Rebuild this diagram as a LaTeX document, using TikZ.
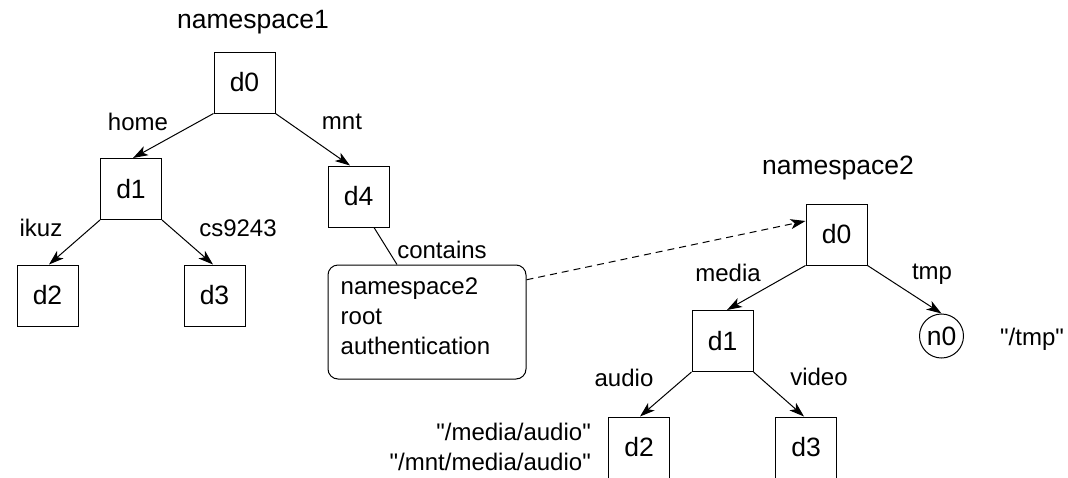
\documentclass[tikz,border=0pt]{standalone}
\usepackage{fontspec}
\setmainfont{Liberation Sans}[Ligatures=TeXOff]
\usetikzlibrary{arrows.meta}
\begin{document}
\begin{tikzpicture}[x=1pt,y=-1pt,
  big/.style={font=\fontsize{26.5}{32}\selectfont},
  small/.style={font=\fontsize{24}{30}\selectfont},
  dir/.style={draw, line width=1pt, minimum size=61pt, inner sep=0pt, big},
  leaf/.style={draw, circle, line width=1pt, minimum size=44pt, inner sep=0pt, big},
  lbl/.style={small, inner sep=0pt},
  arr/.style={line width=1pt, -{Stealth[length=15pt,width=10pt,inset=4pt]}},
  link/.style={line width=1pt}
]
\useasboundingbox (0,0) rectangle (1068,477);

% first namespace
\node[big, inner sep=0pt] (t1) at (253,22) {namespace1};
\node[dir] (a0) at (244.5,82.5) {d0};
\node[dir] (a1) at (131,189) {d1};
\node[dir] (a4) at (358.5,196.5) {d4};
\node[dir] (a2) at (47.5,295.5) {d2};
\node[dir] (a3) at (214.5,295.5) {d3};

\node[lbl] (lhome) at (138,122) {home};
\node[lbl] (lmnt) at (342,122) {mnt};
\node[lbl] (likuz) at (41,228) {ikuz};
\node[lbl] (lcs) at (238,228) {cs9243};

\draw[arr] (a0.south west) -- ([xshift=2pt]a1.north);
\draw[arr] (a0.south east) -- ([xshift=-8.5pt]a4.north);
\draw[arr] (a1.south west) -- ([xshift=1.5pt]a2.north);
\draw[arr] (a1.south east) -- ([xshift=-1.5pt]a3.north);

% mount record
\node[draw, rounded corners=10pt, line width=1pt, minimum width=198pt,
      minimum height=114pt, inner sep=0pt] (mount) at (427,322) {};
\node[small, align=left, anchor=north west, inner sep=0pt] (mtext)
  at (340.5,278) {namespace2\\root\\authentication};
\node[lbl] (lcont) at (442,250) {contains};
\draw[link] ([xshift=15.5pt]a4.south) -- ([xshift=-30pt]mount.north);

% second namespace
\node[big, inner sep=0pt] (t2) at (838,168) {namespace2};
\node[dir] (b0) at (836.5,234.5) {d0};
\node[dir] (b1) at (722.5,341) {d1};
\node[leaf] (n0) at (941.5,336) {n0};
\node[dir] (b2) at (639,447.5) {d2};
\node[dir] (b3) at (806,447.5) {d3};

\node[lbl] (lmedia) at (728,273) {media};
\node[lbl] (ltmp) at (932,274) {tmp};
\node[lbl] (laudio) at (624,378) {audio};
\node[lbl] (lvideo) at (819,377) {video};
\node[lbl] (ptmp) at (1032,339) {"/tmp"};
\node[small, align=right, anchor=east, inner sep=0pt] (paudio)
  at (591,447) {"/media/audio"\\"/mnt/media/audio"};

\draw[arr] (b0.south west) -- ([xshift=4.5pt]b1.north);
\draw[arr] (b0.south east) -- (n0.north);
\draw[arr] (b1.south west) -- ([xshift=1pt]b2.north);
\draw[arr] (b1.south east) -- ([xshift=-2pt]b3.north);

% reference to the mounted root
\draw[arr, dashed, dash pattern=on 7pt off 5pt] (mount.23.5) -- ([yshift=13.5pt]b0.west);
\end{tikzpicture}
\end{document}
